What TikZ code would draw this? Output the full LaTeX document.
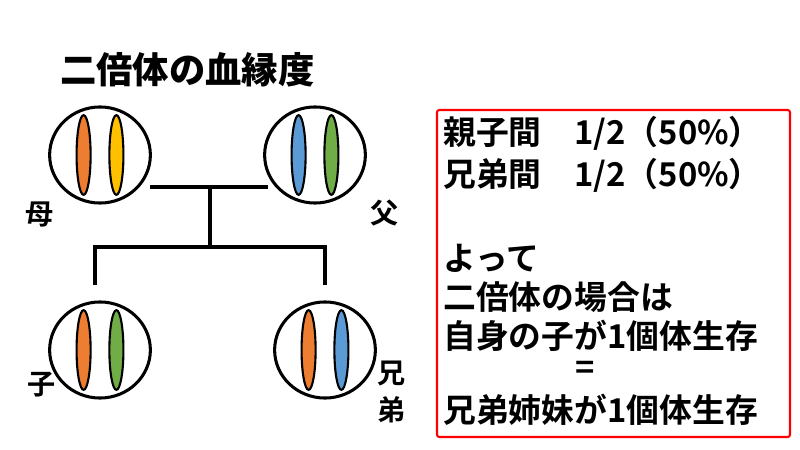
\documentclass[tikz,border=0pt]{standalone}
\usepackage{fontspec}
\setmainfont{Noto Sans CJK JP Bold}
\newfontfamily\boldcjk{Noto Sans CJK JP Black}
\usetikzlibrary{positioning,shapes.geometric}
\definecolor{chorange}{HTML}{ED7D31}
\definecolor{chyellow}{HTML}{FFC000}
\definecolor{chblue}{HTML}{5B9BD5}
\definecolor{chgreen}{HTML}{70AD47}
\tikzset{
  cell/.style={ellipse, draw, line width=2.6pt, minimum width=86, minimum height=82, inner sep=0pt},
  chromo/.style={ellipse, draw, line width=1.8pt, minimum width=12, minimum height=68, inner sep=0pt},
  kin/.style={font=\fontsize{24pt}{26pt}\selectfont, inner sep=0pt},
  txt/.style={font=\fontsize{28pt}{30pt}\selectfont, anchor=west, inner sep=0pt},
  tree/.style={line width=2.6pt}
}
\newcommand{\cellpair}[4]{%
  \node[cell] (#1) at (#2) {};
  \node[chromo, fill=#3] at ([xshift=-14]#1.center) {};
  \node[chromo, fill=#4] at ([xshift=14]#1.center) {};
}
\begin{document}
\begin{tikzpicture}[x=0.03cm, y=-0.03cm]
\useasboundingbox (0,0) rectangle (800,450);

% title
\node[font=\boldcjk\fontsize{31pt}{33pt}\selectfont, anchor=west, inner sep=0pt] (title) at (60,70) {二倍体の血縁度};

% cells
\cellpair{mother}{100,155}{chorange}{chyellow}
\cellpair{father}{315,155}{chblue}{chgreen}
\cellpair{child}{100,350}{chorange}{chgreen}
\cellpair{sib}{325,350}{chorange}{chblue}

% labels
\node[kin] (lmother) at (40,215) {母};
\node[kin] (lfather) at (385,213) {父};
\node[kin] (lchild) at (42,385) {子};
\node[kin] (lsib1) at (392,374) {兄};
\node[kin] (lsib2) at (392,410) {弟};

% tree
\coordinate (pl) at (150,187);
\coordinate (pr) at (268,187);
\coordinate (pm) at (210,187);
\coordinate (bm) at (210,247);
\coordinate (bl) at (95,247);
\coordinate (br) at (325,247);
\coordinate (cl) at (95,285);
\coordinate (cr) at (325,285);
\draw[tree] (pl) -- (pr);
\draw[tree] (pm) -- (bm);
\draw[tree] (cl) |- (br) -- (cr);

% box
\draw[red, line width=1.8pt, rounded corners=2] (437,110) rectangle (790,437);
\node[txt] (t1) at (443,133) {親子間\quad 1/2（50\%）};
\node[txt] (t2) at (443,175) {兄弟間\quad 1/2（50\%）};
\node[txt] (t3) at (443,258) {よって};
\node[txt] (t4) at (443,297) {二倍体の場合は};
\node[txt] (t5) at (443,336) {自身の子が1個体生存};
\node[kin, font=\fontsize{28pt}{30pt}\selectfont] (t6) at (585,370) {=};
\node[txt] (t7) at (443,410) {兄弟姉妹が1個体生存};
\end{tikzpicture}
\end{document}
